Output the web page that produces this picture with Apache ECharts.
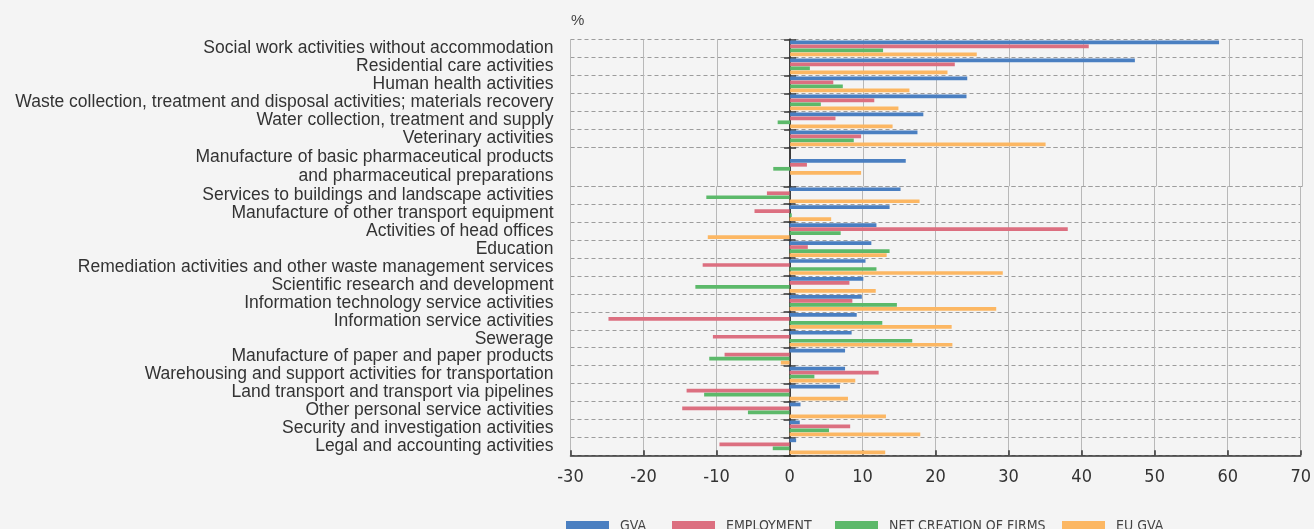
<!DOCTYPE html>
<html>
<head>
<meta charset="utf-8">
<script src="https://cdn.jsdelivr.net/npm/echarts@6/dist/echarts.min.js"></script>
<style>
  html, body { margin: 0; padding: 0; background: #f4f4f4; }
  #chart { width: 1314px; height: 529px; }
</style>
</head>
<body>
<div id="chart"></div>
<script>
const categories = [
  'Social work activities without accommodation',
  'Residential care activities',
  'Human health activities',
  'Waste collection, treatment and disposal activities; materials recovery',
  'Water collection, treatment and supply',
  'Veterinary activities',
  'Manufacture of basic pharmaceutical products\nand pharmaceutical preparations',
  'Services to buildings and landscape activities',
  'Manufacture of other transport equipment',
  'Activities of head offices',
  'Education',
  'Remediation activities and other waste management services',
  'Scientific research and development',
  'Information technology service activities',
  'Information service activities',
  'Sewerage',
  'Manufacture of paper and paper products',
  'Warehousing and support activities for transportation',
  'Land transport and transport via pipelines',
  'Other personal service activities',
  'Security and investigation activities',
  'Legal and accounting activities'
];

const gva = [58.6, 47.1, 24.2, 24.1, 18.2, 17.4, 15.8, 15.2, 13.7, 11.9, 11.2, 10.4, 10.1, 9.9, 9.2, 8.5, 7.6, 7.6, 6.9, 1.5, 1.4, 0.9];
const employment = [40.8, 22.5, 5.9, 11.5, 6.2, 9.7, 2.3, -3.1, -4.8, 38.1, 2.5, -11.9, 8.2, 8.6, -24.8, -10.5, -8.9, 12.2, -14.1, -14.7, 8.3, -9.6];
const netCreation = [12.7, 2.7, 7.2, 4.2, -1.7, 8.7, -2.3, -11.4, 0.3, 7.0, 13.7, 11.9, -12.9, 14.7, 12.7, 16.8, -11.0, 3.4, -11.7, -5.7, 5.4, -2.3];
const euGva = [25.5, 21.5, 16.3, 14.8, 14.0, 34.9, 9.7, 17.8, 5.7, -11.2, 13.3, 29.2, 11.8, 28.3, 22.2, 22.3, -1.2, 9.0, 8.0, 13.2, 17.9, 13.1];

const xMin = -30, xMax = 70, xStep = 10;

const seriesDefs = [
  { name: 'GVA', data: gva, color: '#4a7fc1' },
  { name: 'EMPLOYMENT', data: employment, color: '#dc6f80' },
  { name: 'NET CREATION OF FIRMS', data: netCreation, color: '#5cb96a' },
  { name: 'EU GVA', data: euGva, color: '#fcb763' }
];

// the two-line pharma row is taller, so rows are split over three stacked grids
const blocks = [
  { from: 0, to: 6, top: 39.3, height: 108 },
  { from: 6, to: 7, top: 147.3, height: 39 },
  { from: 7, to: 22, top: 186.3, height: 269 }
];

const narrow = "'DejaVu Sans Condensed', 'DejaVu Sans', sans-serif";
const plain = "'Liberation Sans', Arial, sans-serif";

const grid = [], xAxis = [], yAxis = [], series = [];

blocks.forEach(function (b, i) {
  const last = i === blocks.length - 1;
  const cats = categories.slice(b.from, b.to);
  grid.push({ left: 570.5, right: 11.5, top: b.top, height: b.height });
  xAxis.push({
    gridIndex: i, type: 'value', min: xMin, max: xMax, interval: xStep,
    axisLine: { show: last, onZero: false, lineStyle: { color: '#333', width: 1.5 } },
    axisTick: { show: last, inside: true, length: 5, lineStyle: { color: '#333', width: 1.5 } },
    axisLabel: { show: last, margin: 13, color: '#333', fontSize: 18, fontStyle: 'condensed', fontFamily: narrow },
    splitLine: { show: true, lineStyle: { color: '#b8b8b8', width: 1 } }
  });
  // hidden twin x axis, only used to put the second zero axis on 0
  xAxis.push({
    gridIndex: i, type: 'value', min: xMin, max: xMax, interval: xStep, position: 'bottom',
    axisLine: { show: false, onZero: false }, axisTick: { show: false },
    axisLabel: { show: false }, splitLine: { show: false }
  });
  // labels at the left edge
  yAxis.push({
    gridIndex: i, type: 'category', inverse: true, data: cats, position: 'left',
    axisLine: { show: false, onZero: false },
    axisTick: { show: false },
    axisLabel: { interval: 0, margin: 17, color: '#333', fontSize: 17.5, fontFamily: plain, lineHeight: 19 },
    splitLine: { show: true, interval: 0, lineStyle: { color: '#9c9c9c', width: 1, type: [4, 3] } }
  });
  // zero line with ticks pointing left
  yAxis.push({
    gridIndex: i, type: 'category', inverse: true, data: cats, position: 'left',
    axisLine: { show: true, onZero: true, onZeroAxisIndex: i * 2, lineStyle: { color: '#333', width: 1.5 } },
    axisTick: { show: true, interval: 0, length: 6, lineStyle: { color: '#333', width: 1.5 } },
    axisLabel: { show: false, interval: 0 },
    splitLine: { show: false }
  });
  // ticks pointing right
  yAxis.push({
    gridIndex: i, type: 'category', inverse: true, data: cats, position: 'left',
    axisLine: { show: true, onZero: true, onZeroAxisIndex: i * 2 + 1, lineStyle: { color: '#333', width: 1.5 } },
    axisTick: { show: true, interval: 0, inside: true, length: 6, lineStyle: { color: '#333', width: 1.5 } },
    axisLabel: { show: false, interval: 0 },
    splitLine: { show: false }
  });
  seriesDefs.forEach(function (s) {
    series.push({
      name: s.name, type: 'bar',
      xAxisIndex: i * 2, yAxisIndex: i * 3,
      data: s.data.slice(b.from, b.to),
      barWidth: 3.7, barGap: '8%',
      itemStyle: { color: s.color }
    });
  });
});

const legendLeft = [566, 672, 835, 1062];
const legend = seriesDefs.map(function (s, k) {
  return {
    data: [s.name], left: legendLeft[k], top: 519, padding: 0,
    icon: 'rect', itemWidth: 43, itemHeight: 10,
    textStyle: { color: '#444', fontSize: 14, fontStyle: 'condensed', fontFamily: narrow, padding: [0, 0, 0, 6] }
  };
});

const chart = echarts.init(document.getElementById('chart'), null, { renderer: 'canvas' });
chart.setOption({
  backgroundColor: '#f4f4f4',
  animation: false,
  graphic: [{
    type: 'text', left: 571, top: 13,
    style: { text: '%', fill: '#444', font: '15px ' + plain }
  }],
  legend: legend,
  grid: grid,
  xAxis: xAxis,
  yAxis: yAxis,
  series: series
});
</script>
</body>
</html>
